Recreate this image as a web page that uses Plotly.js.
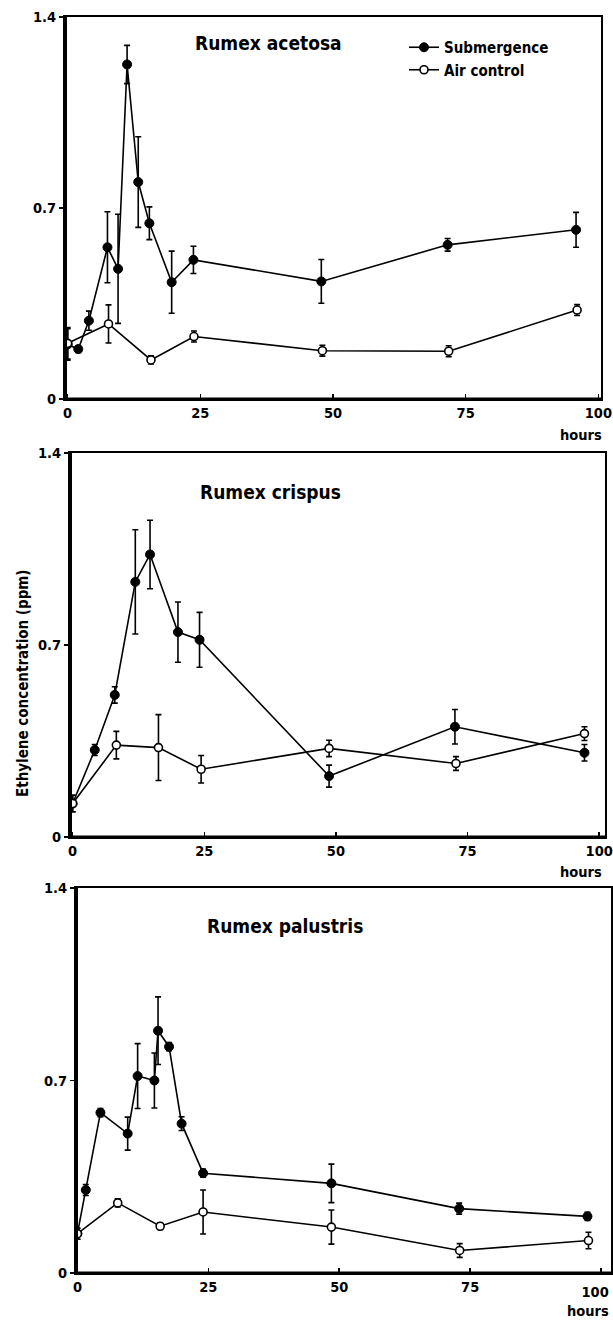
<!DOCTYPE html>
<html>
<head>
<meta charset="utf-8">
<script src="https://cdn.plot.ly/plotly-3.0.1.min.js"></script>
<style>html,body{margin:0;padding:0;background:#fff;}#chart{width:613px;height:1326px;}</style>
</head>
<body>
<div id="chart"></div>
<script>
// ---- Data ----
// Rumex acetosa
const acetosaSubHours = [0, 2, 4, 7.5, 9.5, 11.2, 13.3, 15.4, 19.6, 23.7, 47.8, 71.6, 95.8];
const acetosaSubVals  = [0.20, 0.183, 0.287, 0.556, 0.477, 1.226, 0.795, 0.644, 0.428, 0.51, 0.431, 0.565, 0.62];
const acetosaSubErr   = [0.058, 0.012, 0.035, 0.13, 0.2, 0.07, 0.166, 0.06, 0.114, 0.05, 0.08, 0.023, 0.064];
const acetosaAirHours = [0, 7.7, 15.7, 23.8, 48, 71.8, 96];
const acetosaAirVals  = [0.204, 0.275, 0.143, 0.229, 0.177, 0.175, 0.326];
const acetosaAirErr   = [0.058, 0.07, 0.015, 0.02, 0.02, 0.02, 0.02];
// Rumex crispus
const crispusSubHours = [0, 4.2, 8, 11.9, 14.7, 20, 24.1, 48.7, 72.6, 97.2];
const crispusSubVals  = [0.122, 0.317, 0.518, 0.93, 1.03, 0.747, 0.719, 0.222, 0.402, 0.307];
const crispusSubErr   = [0.03, 0.02, 0.03, 0.19, 0.125, 0.11, 0.1, 0.04, 0.063, 0.03];
const crispusAirHours = [0, 8.3, 16.3, 24.4, 48.7, 72.8, 97.2];
const crispusAirVals  = [0.122, 0.335, 0.326, 0.247, 0.323, 0.268, 0.377];
const crispusAirErr   = [0.03, 0.05, 0.12, 0.05, 0.03, 0.025, 0.025];
// Rumex palustris
const palustrisSubHours = [0, 1.6, 4.4, 9.6, 11.5, 14.7, 15.4, 17.5, 19.9, 24, 48.5, 72.9, 97.4];
const palustrisSubVals  = [0.143, 0.302, 0.583, 0.507, 0.716, 0.70, 0.881, 0.823, 0.543, 0.363, 0.326, 0.234, 0.206];
const palustrisSubErr   = [0.02, 0.02, 0.015, 0.06, 0.118, 0.1, 0.123, 0.015, 0.025, 0.015, 0.07, 0.02, 0.015];
const palustrisAirHours = [0, 7.7, 15.8, 24, 48.5, 73, 97.6];
const palustrisAirVals  = [0.143, 0.255, 0.17, 0.222, 0.167, 0.082, 0.118];
const palustrisAirErr   = [0.02, 0.015, 0.012, 0.08, 0.062, 0.025, 0.03];

const panelTitles = ["Rumex acetosa", "Rumex crispus", "Rumex palustris"];
const seriesNames = ["Submergence", "Air control"];
const xTickVals = [0, 25, 50, 75, 100];
const xTickText = ["0", "25", "50", "75", "100"];
const yTickVals = [0, 0.7, 1.4];
const yTickText = ["0", "0.7", "1.4"];
const yTitle = "Ethylene concentration (ppm)";
const xUnit = "hours";

// ---- Build ----
const FONT = "DejaVu Sans Condensed, sans-serif";
const panels = [
  {sx: acetosaSubHours, sy: acetosaSubVals, se: acetosaSubErr, ax: acetosaAirHours, ay: acetosaAirVals, ae: acetosaAirErr},
  {sx: crispusSubHours, sy: crispusSubVals, se: crispusSubErr, ax: crispusAirHours, ay: crispusAirVals, ae: crispusAirErr},
  {sx: palustrisSubHours, sy: palustrisSubVals, se: palustrisSubErr, ax: palustrisAirHours, ay: palustrisAirVals, ae: palustrisAirErr}
];
const traces = [];
panels.forEach((p, i) => {
  const xa = i === 0 ? 'x' : 'x' + (i + 1);
  const ya = i === 0 ? 'y' : 'y' + (i + 1);
  traces.push({
    x: p.sx, y: p.sy, xaxis: xa, yaxis: ya, name: seriesNames[0], type: 'scatter', mode: 'lines+markers',
    showlegend: i === 0, legendrank: 1,
    line: {color: '#000', width: 1.6},
    marker: {symbol: 'circle', size: 9, color: '#000', line: {color: '#000', width: 1}},
    error_y: {type: 'data', array: p.se, visible: true, color: '#000', thickness: 1.6, width: 3}
  });
  traces.push({
    x: p.ax, y: p.ay, xaxis: xa, yaxis: ya, name: seriesNames[1], type: 'scatter', mode: 'lines+markers',
    showlegend: i === 0, legendrank: 2,
    line: {color: '#000', width: 1.6},
    marker: {symbol: 'circle', size: 8, color: '#fff', line: {color: '#000', width: 1.6}},
    error_y: {type: 'data', array: p.ae, visible: true, color: '#000', thickness: 1.6, width: 3}
  });
});

const W = 613, H = 1326;
const px = v => v / W, py = v => 1 - v / H;
const geom = [
  {xl: 65, xr: 601, xr0: -0.5, xr1: 100.5, yt: 17, yb: 399},
  {xl: 70, xr: 605, xr0: -0.5, xr1: 101.1, yt: 453, yb: 837},
  {xl: 76, xr: 611, xr0: -0.27, xr1: 101.9, yt: 888, yb: 1273}
];
const TF = {family: FONT, size: 14.5, color: '#000', weight: 'bold'};
const layout = {
  width: W, height: H, margin: {l: 0, r: 0, t: 0, b: 0},
  paper_bgcolor: '#fff', plot_bgcolor: '#fff',
  font: {family: FONT, color: '#000', size: 14},
  showlegend: true,
  legend: {x: px(404), y: py(31), xanchor: 'left', yanchor: 'top', bgcolor: 'rgba(0,0,0,0)',
           font: {family: FONT, size: 15, color: '#000', weight: 'bold'}, itemwidth: 30, tracegroupgap: 2},
  annotations: [], shapes: []
};
const titlePos = [[268, 43], [270, 492], [285, 926]];
const hoursPos = [[604, 435], [604, 872], [611, 1301]];
geom.forEach((g, i) => {
  const xk = i === 0 ? 'xaxis' : 'xaxis' + (i + 1);
  const yk = i === 0 ? 'yaxis' : 'yaxis' + (i + 1);
  const ya = i === 0 ? 'y' : 'y' + (i + 1);
  const xa = i === 0 ? 'x' : 'x' + (i + 1);
  const last = i === 2; // bottom panel: "100" sits at the page edge, drawn together with "hours"
  layout[xk] = {
    domain: [px(g.xl), px(g.xr)], range: [g.xr0, g.xr1], anchor: ya,
    showgrid: false, zeroline: false, showline: true, linecolor: '#000', linewidth: 2, mirror: true,
    tickvals: xTickVals, ticktext: last ? xTickText.slice(0, 4).concat([""]) : xTickText,
    ticks: 'inside', ticklen: 5, tickwidth: 1.5, tickcolor: '#000',
    ticklabeloverflow: 'allow',
    tickfont: TF, fixedrange: true
  };
  layout[yk] = {
    domain: [py(g.yb), py(g.yt)], range: [0, 1.4], anchor: xa,
    showgrid: false, zeroline: false, showline: true, linecolor: '#000', linewidth: 2, mirror: true,
    tickvals: yTickVals, ticktext: yTickText, ticks: 'outside', ticklen: 4, tickwidth: 1.5, tickcolor: '#000',
    tickfont: TF, fixedrange: true
  };
  // thicker left and bottom frame lines
  layout.shapes.push({type: 'line', xref: xa + ' domain', yref: ya + ' domain', x0: 0, x1: 0, y0: 0, y1: 1,
                      line: {color: '#000', width: 4}});
  layout.shapes.push({type: 'line', xref: xa + ' domain', yref: ya + ' domain', x0: 0, x1: 1, y0: 0, y1: 0,
                      line: {color: '#000', width: 3}});
  layout.annotations.push({text: panelTitles[i], xref: 'paper', yref: 'paper', x: px(titlePos[i][0]), y: py(titlePos[i][1]),
                           xanchor: 'center', yanchor: 'middle', showarrow: false,
                           font: {family: FONT, size: 19, color: '#000', weight: 'bold'}});
  layout.annotations.push({text: last ? xTickText[4] + '<br>' + xUnit : xUnit, xref: 'paper', yref: 'paper',
                           x: px(hoursPos[i][0]), y: py(hoursPos[i][1]), align: 'right',
                           xanchor: 'right', yanchor: 'middle', showarrow: false, font: TF});
});
layout.annotations.push({text: yTitle, xref: 'paper', yref: 'paper', x: px(23), y: py(683), textangle: -90,
                         xanchor: 'center', yanchor: 'middle', showarrow: false,
                         font: {family: FONT, size: 15, color: '#000', weight: 'bold'}});

Plotly.newPlot('chart', traces, layout, {displayModeBar: false, staticPlot: true});
</script>
</body>
</html>
